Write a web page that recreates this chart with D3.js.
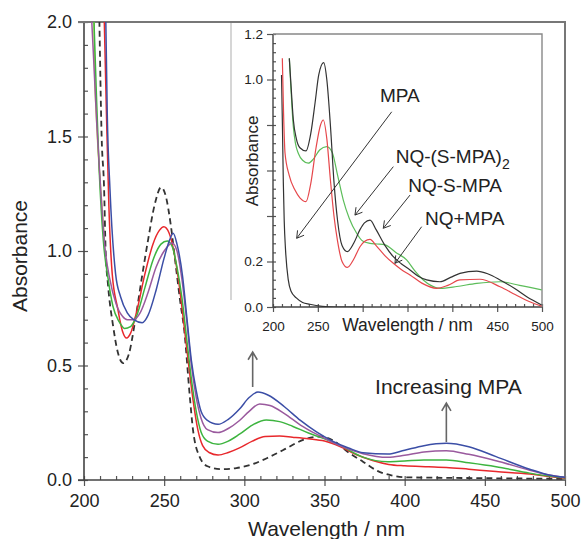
<!DOCTYPE html>
<html>
<head>
  <meta charset="utf-8">
  <title>UV-vis spectra, NQ + MPA</title>
  <script src="https://d3js.org/d3.v7.min.js"></script>
  <style>
    body { margin: 0; background: #fff; }
    text { font-family: "Liberation Sans", Arial, sans-serif; fill: #222; }
  </style>
</head>
<body>
  <script>
    // ---- main chart data (wavelength nm, absorbance) ----
    const dashedNQ = [[209.5,2.05],[211,1.5],[212.5,1.28],[213.5,1.0],[215,0.85],[218,0.68],[221,0.56],[224.5,0.51],[228,0.55],[232,0.7],[236,0.88],[240,1.05],[244,1.2],[248.1,1.278],[251,1.24],[254,1.12],[257,0.95],[260,0.78],[262.5,0.655],[266,0.364],[268,0.218],[272.2,0.1],[277,0.06],[285.7,0.047],[295,0.052],[303.4,0.065],[314,0.095],[324,0.13],[338.7,0.18],[348,0.19],[356,0.17],[365,0.12],[374,0.08],[383,0.04],[391.7,0.02],[400,0.012],[450,0.008],[500,0.005]];
    const yellowCurve = [[206.2,2.05],[206.5,1.84],[208,1.55],[210.4,1.27],[213,1.02]];
    const redCurve = [[212.5,2.05],[214,1.6],[215.5,1.2],[217.6,0.9],[221,0.75],[224,0.65],[226.6,0.62],[229,0.64],[233,0.74],[238,0.9],[243,1.03],[247,1.09],[249.8,1.106],[253,1.08],[256,1.0],[259,0.87],[262,0.7],[265,0.52],[268,0.35],[271,0.22],[274,0.15],[278,0.12],[283.6,0.109],[290,0.12],[297,0.14],[305,0.17],[313,0.19],[322,0.192],[330,0.187],[340,0.18],[350,0.17],[360,0.145],[370,0.11],[380,0.085],[390,0.068],[400,0.062],[415,0.058],[426,0.055],[440,0.047],[457,0.037],[478,0.026],[490,0.015],[500,0.008]];
    const greenCurve = [[206,2.05],[207.7,1.69],[209.5,1.35],[212,1.05],[215,0.88],[218,0.76],[222,0.69],[225.3,0.662],[229,0.67],[233,0.72],[238,0.84],[243,0.96],[248,1.03],[251.9,1.044],[255,1.02],[258,0.93],[261,0.8],[264,0.62],[267,0.44],[270,0.3],[273,0.21],[277,0.17],[283.6,0.156],[290,0.17],[297,0.2],[305,0.24],[313.7,0.262],[322,0.255],[330,0.235],[340,0.205],[350,0.18],[360,0.15],[374,0.1],[389.5,0.08],[400,0.083],[412,0.087],[426,0.087],[440,0.075],[457,0.058],[478,0.03],[490,0.017],[500,0.01]];
    const purpleCurve = [[204.5,2.05],[206,1.84],[208,1.55],[210.4,1.27],[213,1.02],[216,0.88],[220,0.77],[224,0.715],[227,0.7],[231,0.7],[235,0.73],[240,0.82],[245,0.93],[250,1.0],[255,1.035],[258,1.0],[261,0.88],[264,0.7],[267,0.5],[270,0.36],[273,0.27],[277,0.22],[283.6,0.207],[290,0.225],[297,0.26],[303,0.3],[309.6,0.332],[316,0.325],[325,0.29],[335,0.24],[345,0.2],[355,0.165],[365,0.135],[374,0.115],[389.5,0.099],[400,0.108],[412,0.122],[426,0.128],[440,0.112],[457,0.084],[478,0.043],[490,0.022],[500,0.012]];
    const blueCurve = [[213.5,2.05],[214.5,1.6],[216.2,1.27],[219.7,0.9],[222.8,0.8],[227,0.73],[231,0.7],[236.3,0.687],[240,0.72],[245,0.83],[250,0.97],[253.5,1.05],[255.6,1.077],[258,1.03],[261.5,0.888],[264,0.72],[267,0.52],[270,0.39],[273,0.3],[277,0.26],[283.6,0.243],[290,0.265],[297,0.31],[303,0.36],[308.5,0.384],[315,0.37],[325,0.32],[335,0.26],[345,0.21],[355,0.17],[365,0.14],[374,0.119],[389.5,0.113],[400,0.13],[412,0.15],[426,0.16],[440,0.145],[457,0.102],[478,0.047],[490,0.022],[500,0.012]];

    // ---- inset data ----
    const insetMPA = [[209.5,1.02],[210.5,0.8],[211.5,0.55],[212.5,0.38],[214,0.25],[217,0.12],[220,0.07],[226,0.04],[233,0.02],[241,0.012],[255,0.003],[270,0],[300,0]];
    const insetBlack = [[218.2,1.093],[220,0.98],[222.7,0.822],[226,0.74],[230,0.7],[236.8,0.686],[242,0.76],[247,0.9],[251,1.02],[256.5,1.074],[260,1.0],[264,0.8],[268,0.55],[272,0.38],[277,0.27],[282.9,0.243],[290,0.28],[297,0.34],[302,0.37],[308.2,0.382],[315,0.34],[325,0.27],[334.2,0.221],[343,0.19],[352.8,0.163],[362,0.135],[371.4,0.119],[386.2,0.111],[398,0.13],[408.5,0.148],[427.2,0.158],[440,0.145],[453.2,0.119],[470,0.08],[483,0.045],[499.6,0.009]];
    const insetRed = [[210.4,1.093],[211.8,0.85],[213.4,0.677],[218,0.58],[224.5,0.514],[230,0.48],[236.8,0.463],[242,0.54],[248,0.7],[253,0.8],[256.1,0.822],[260,0.74],[264,0.56],[268,0.4],[272,0.29],[277,0.2],[282.9,0.174],[290,0.21],[297,0.265],[302,0.288],[308.2,0.297],[315,0.27],[325,0.225],[334.2,0.192],[343,0.165],[352.8,0.141],[366,0.105],[382.5,0.082],[395,0.095],[408.5,0.119],[430.8,0.122],[453.2,0.089],[470,0.055],[485,0.025],[499.6,0.004]];
    const insetGreen = [[218.2,1.093],[220,0.96],[222.5,0.8],[225,0.72],[228.3,0.675],[233,0.645],[239.4,0.632],[245,0.65],[252,0.69],[259.9,0.705],[266,0.68],[272,0.58],[278.4,0.47],[285,0.39],[293.3,0.324],[300,0.29],[308.2,0.28],[316,0.277],[325,0.273],[337,0.24],[349,0.207],[358,0.16],[367.6,0.119],[376,0.095],[386.2,0.082],[405,0.09],[427.2,0.104],[453.2,0.111],[475,0.095],[499.6,0.075]];

    // tick values
    const mainYTicks = [0, 0.5, 1.0, 1.5, 2.0];
    const mainXTicks = [200, 250, 300, 350, 400, 450, 500];
    const insetYTicks = [0, 0.2, 0.4, 0.6, 0.8, 1.0, 1.2];
    const insetYLabels = [0, 0.2, 1.0, 1.2];
    const insetXTicks = [200, 250, 300, 350, 400, 450, 500];
    const insetXLabels = [200, 250, 450, 500];

    const width = 581, height = 539;
    const svg = d3.select('body').append('svg')
      .attr('width', width)
      .attr('height', height);

    const x = d3.scaleLinear().domain([200, 500]).range([84, 565]);
    const y = d3.scaleLinear().domain([0, 2]).range([480, 22]);
    const xi = d3.scaleLinear().domain([200, 500]).range([273, 542]);
    const yi = d3.scaleLinear().domain([0, 1.2]).range([307, 34]);

    const axisColor = '#555';

    // clip for main plot
    svg.append('clipPath').attr('id', 'clipMain')
      .append('rect').attr('x', 84).attr('y', 22).attr('width', 481).attr('height', 458);
    svg.append('clipPath').attr('id', 'clipInset')
      .append('rect').attr('x', 273).attr('y', 34).attr('width', 269).attr('height', 273);

    // inset outer box edge
    svg.append('line').attr('x1', 231).attr('x2', 231).attr('y1', 22).attr('y2', 300)
      .attr('stroke', '#bbb').attr('stroke-width', 1.2);

    // ---- main axes ----
    function styleAxis(g) {
      g.select('.domain').remove();
      g.selectAll('line').attr('stroke', axisColor).attr('stroke-width', 1.2);
      g.selectAll('text').attr('fill', '#222');
    }

    svg.append('g').attr('transform', 'translate(84,0)')
      .call(d3.axisLeft(y).tickValues(mainYTicks).tickFormat(d3.format('.1f')).tickSize(6).tickPadding(6))
      .call(styleAxis)
      .selectAll('text').style('font-size', '18px');
    svg.append('g').attr('transform', 'translate(84,0)')
      .call(d3.axisRight(y).tickValues(d3.range(0, 21).map(i => i / 10)).tickFormat('').tickSize(4))
      .call(styleAxis);
    svg.append('g').attr('transform', 'translate(0,480)')
      .call(d3.axisBottom(x).tickValues(mainXTicks).tickFormat(d3.format('d')).tickSize(6).tickPadding(8))
      .call(styleAxis)
      .selectAll('text').style('font-size', '18px');
    svg.append('g').attr('transform', 'translate(0,480)')
      .call(d3.axisTop(x).tickValues(d3.range(200, 501, 10)).tickFormat('').tickSize(4))
      .call(styleAxis);

    // main frame lines
    svg.append('path')
      .attr('d', `M78,${y(0)}H${x(500)}M84,${y(0)}V${y(2)}`)
      .attr('stroke', '#444').attr('stroke-width', 1.6).attr('fill', 'none');
    svg.append('path')
      .attr('d', `M78,${y(2)}H${x(500)}V${y(0)}`)
      .attr('stroke', '#777').attr('stroke-width', 2).attr('fill', 'none');

    svg.append('text')
      .attr('x', (x(200) + x(500)) / 2 + 2).attr('y', 536)
      .attr('text-anchor', 'middle').style('font-size', '21px')
      .text('Wavelength / nm');
    svg.append('text')
      .attr('transform', `translate(27,${(y(0) + y(2)) / 2 + 5}) rotate(-90)`)
      .attr('text-anchor', 'middle').style('font-size', '21px')
      .text('Absorbance');

    // ---- main curves ----
    const line = d3.line().x(d => x(d[0])).y(d => y(d[1])).curve(d3.curveMonotoneX);
    const mainSeries = [
      { data: yellowCurve, color: '#c9d43c', dash: null },
      { data: dashedNQ, color: '#333', dash: '6,4' },
      { data: redCurve, color: '#e8282c', dash: null },
      { data: greenCurve, color: '#3db43f', dash: null },
      { data: purpleCurve, color: '#9a5a9e', dash: null },
      { data: blueCurve, color: '#3b4ea6', dash: null }
    ];
    const mainG = svg.append('g').attr('clip-path', 'url(#clipMain)');
    mainG.selectAll('.curve')
      .data(mainSeries)
      .enter().append('path')
      .attr('class', 'curve')
      .attr('d', d => line(d.data))
      .attr('fill', 'none')
      .attr('stroke', d => d.color)
      .attr('stroke-width', d => d.dash ? 1.8 : 1.5)
      .attr('stroke-dasharray', d => d.dash);

    // open arrow helper
    function arrow(g, x1, y1, x2, y2, color, w, head) {
      const a = Math.atan2(y2 - y1, x2 - x1);
      const p = [a + Math.PI * 0.83, a - Math.PI * 0.83].map(t => [x2 + head * Math.cos(t), y2 + head * Math.sin(t)]);
      g.append('path')
        .attr('d', `M${x1},${y1}L${x2},${y2}M${p[0][0]},${p[0][1]}L${x2},${y2}L${p[1][0]},${p[1][1]}`)
        .attr('fill', 'none').attr('stroke', color).attr('stroke-width', w);
    }

    // main annotations (data coords)
    const mainArrows = [[305.2, 0.406, 305.2, 0.559], [426, 0.166, 426, 0.336]];
    mainArrows.forEach(a => arrow(svg, x(a[0]), y(a[1]), x(a[2]), y(a[3]), '#666', 1.6, 9));
    svg.append('text')
      .attr('x', x(427.3)).attr('y', y(0.3755))
      .attr('text-anchor', 'middle').style('font-size', '21px')
      .text('Increasing MPA');

    // ---- inset ----
    svg.append('g').attr('transform', 'translate(273,0)')
      .call(d3.axisLeft(yi).tickValues(insetYTicks)
        .tickFormat(d => insetYLabels.includes(d) ? d3.format('.1f')(d) : '').tickSize(6).tickPadding(4))
      .call(styleAxis)
      .selectAll('text').style('font-size', '13.5px');
    svg.append('g').attr('transform', 'translate(273,0)')
      .call(d3.axisRight(yi).tickValues(d3.range(0, 31).map(i => i * 0.04)).tickFormat('').tickSize(3))
      .call(styleAxis);
    svg.append('g').attr('transform', 'translate(0,307)')
      .call(d3.axisBottom(xi).tickValues(insetXTicks)
        .tickFormat(d => insetXLabels.includes(d) ? d : '').tickSize(5).tickPadding(9))
      .call(styleAxis)
      .selectAll('text').style('font-size', '13.5px');
    svg.append('g').attr('transform', 'translate(0,307)')
      .call(d3.axisTop(xi).tickValues(d3.range(200, 501, 10)).tickFormat('').tickSize(3))
      .call(styleAxis);
    svg.append('path')
      .attr('d', `M${xi(200)},${yi(0)}H${xi(500)}M${xi(200)},${yi(0)}V${yi(1.2)}`)
      .attr('stroke', '#444').attr('stroke-width', 1.4).attr('fill', 'none');
    svg.append('path')
      .attr('d', `M${xi(200)},${yi(1.2)}H${xi(500)}V${yi(0)}`)
      .attr('stroke', '#888').attr('stroke-width', 1.4).attr('fill', 'none');

    svg.append('text')
      .attr('x', 407.5).attr('y', 331)
      .attr('text-anchor', 'middle').style('font-size', '17.5px')
      .text('Wavelength / nm');
    svg.append('text')
      .attr('transform', `translate(258,161) rotate(-90)`)
      .attr('text-anchor', 'middle').style('font-size', '17px')
      .text('Absorbance');

    const lineI = d3.line().x(d => xi(d[0])).y(d => yi(d[1])).curve(d3.curveMonotoneX);
    const insetSeries = [
      { data: insetMPA, color: '#333' },
      { data: insetGreen, color: '#5cbd5a' },
      { data: insetRed, color: '#e6474b' },
      { data: insetBlack, color: '#333' }
    ];
    svg.append('g').attr('clip-path', 'url(#clipInset)')
      .selectAll('.icurve')
      .data(insetSeries)
      .enter().append('path')
      .attr('class', 'icurve')
      .attr('d', d => lineI(d.data))
      .attr('fill', 'none')
      .attr('stroke', d => d.color)
      .attr('stroke-width', 1.2);

    // inset labels and arrows (inset data coords)
    const insetNotes = [
      { text: 'MPA', tx: 319.3, ty: 0.902, a: [332.4, 0.858, 226.4, 0.302] },
      { text: 'NQ-(S-MPA)', sub: '2', tx: 336.8, ty: 0.632, a: [334.2, 0.617, 291.4, 0.404] },
      { text: 'NQ-S-MPA', tx: 350.9, ty: 0.507, a: [352.8, 0.492, 323, 0.346] },
      { text: 'NQ+MPA', tx: 369.5, ty: 0.36, a: [365.8, 0.353, 336, 0.192] }
    ];
    insetNotes.forEach(n => {
      arrow(svg, xi(n.a[0]), yi(n.a[1]), xi(n.a[2]), yi(n.a[3]), '#333', 1, 8);
      const t = svg.append('text')
        .attr('x', xi(n.tx)).attr('y', yi(n.ty))
        .style('font-size', '19px')
        .text(n.text);
      if (n.sub) {
        t.append('tspan').attr('dy', 6).style('font-size', '14px').text(n.sub);
      }
    });
  </script>
</body>
</html>
